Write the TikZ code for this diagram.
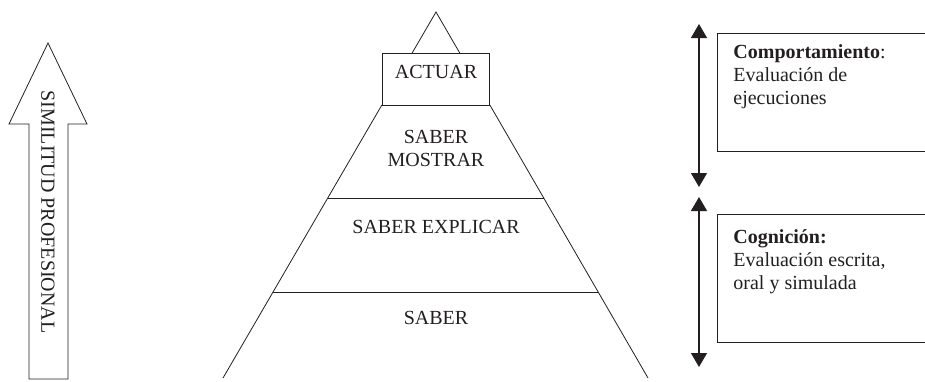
\documentclass[tikz,border=0pt]{standalone}
\usepackage{fontspec}
\setmainfont{Liberation Serif}
\usetikzlibrary{arrows.meta, calc}
\definecolor{ink}{HTML}{231F20}

\begin{document}
\begin{tikzpicture}[x=0.75pt, y=-0.75pt,
    line width=0.6pt, draw=ink, text=ink,
    >={Triangle[length=10.5pt, width=12pt]},
    lbl/.style={font=\fontsize{15}{17.25}\selectfont, inner sep=0pt, align=center},
    note/.style={font=\fontsize{15}{17.25}\selectfont, inner sep=0pt, align=left, anchor=west}]

% Frame
\useasboundingbox (0,0) rectangle (925,382);

% ================================================================
% LEFT: big upward arrow
% ================================================================
\draw (29,379) -- (29,124) -- (9,124) -- (48,43) -- (87,124)
  -- (68,124) -- (68,379) -- cycle;
\node[lbl, rotate=-90] (simil) at (48,212) {SIMILITUD PROFESIONAL};

% ================================================================
% CENTRE: pyramid
% ================================================================
\coordinate (apex) at (436,12);
\coordinate (bl) at (223,378);
\coordinate (br) at (648,378);
\coordinate (box-bl) at ($(apex)!0.254!(bl)$);
\coordinate (box-br) at ($(apex)!0.254!(br)$);
\coordinate (box-tl) at ($(box-bl)+(0,-52)$);
\coordinate (box-tr) at ($(box-br)+(0,-52)$);

% tip above the box
\draw ($(apex)!0.112!(bl)$) -- (apex) -- ($(apex)!0.112!(br)$);
% box
\draw (box-bl) -- (box-tl) -- (box-tr) -- (box-br) -- cycle;
% sides
\draw (box-bl) -- (bl);
\draw (box-br) -- (br);
% layers
\draw ($(apex)!0.508!(bl)$) -- ($(apex)!0.508!(br)$);
\draw ($(apex)!0.765!(bl)$) -- ($(apex)!0.765!(br)$);

\node[lbl] (actuar)   at (436,72)    {ACTUAR};
\node[lbl] (mostrar)  at (436,148.5) {SABER\\MOSTRAR};
\node[lbl] (explicar) at (436,227)   {SABER EXPLICAR};
\node[lbl] (saber)    at (436,318)   {SABER};

% ================================================================
% RIGHT: ranges and boxes
% ================================================================
\coordinate (c-top) at (699,24);
\coordinate (c-bot) at (699,187);
\coordinate (k-top) at (699,197);
\coordinate (k-bot) at (699,367);

\draw[<->, line width=0.9pt] (c-top) -- (c-bot);
\draw[<->, line width=0.9pt] (k-top) -- (k-bot);

% open boxes (cut by the right edge)
\draw (925,33) -- (717,33) -- (717,151) -- (925,151);
\draw (925,214) -- (717,214) -- (717,342) -- (925,342);

\node[note] (comport) at (733,77)
  {\textbf{Comportamiento}:\\Evaluación de\\ejecuciones};
\node[note] (cognic) at (733,262)
  {\textbf{Cognición:}\\Evaluación escrita,\\oral y simulada};

\end{tikzpicture}
\end{document}
